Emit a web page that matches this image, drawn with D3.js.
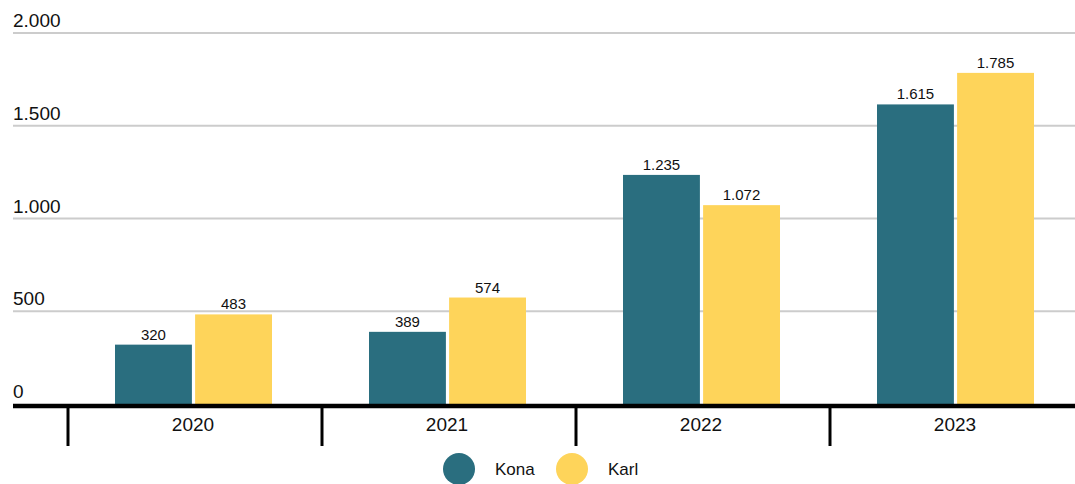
<!DOCTYPE html>
<html><head><meta charset="utf-8">
<script src="https://cdn.jsdelivr.net/npm/d3@7"></script>
<style>body{margin:0;background:#fff}svg{display:block;font-family:"Liberation Sans",Arial,sans-serif}</style>
</head><body><svg id="c" width="1075" height="484"></svg>
<script>
const categories = ["2020","2021","2022","2023"];
const seriesNames = ["Kona","Karl"];
const konaValues = [320, 389, 1235, 1615];
const karlValues = [483, 574, 1072, 1785];
const yTicks = [0, 500, 1000, 1500, 2000];
const colors = ["#2a6e7f", "#fed45a"];

const svg = d3.select("#c");
const y = d3.scaleLinear().domain([0, 2000]).range([404, 33]);
const x = d3.scaleBand().domain(categories).range([68, 1084]);
const xs = d3.scaleBand().domain(seriesNames).range([0, 157]).paddingInner(0.04);
const fmt = v => d3.format(",")(v).replace(/,/g, ".");

// gridlines
svg.append("g").selectAll("line").data(yTicks.filter(d => d > 0)).join("line")
  .attr("x1", 13).attr("x2", 1075).attr("y1", d => y(d)).attr("y2", d => y(d))
  .attr("stroke", "#cccccc").attr("stroke-width", 2);
svg.append("g").selectAll("text").data(yTicks).join("text")
  .attr("x", 13).attr("y", d => y(d) - 6).attr("font-size", 19).attr("fill", "#111")
  .text(d => fmt(d));

const data = categories.map((c, i) => ({c, vals: [konaValues[i], karlValues[i]]}));
const g = svg.append("g").selectAll("g").data(data).join("g")
  .attr("transform", d => `translate(${x(d.c) + 47},0)`);
g.selectAll("rect").data(d => d.vals.map((v, j) => ({v, s: seriesNames[j], j}))).join("rect")
  .attr("x", d => xs(d.s)).attr("width", xs.bandwidth())
  .attr("y", d => y(d.v)).attr("height", d => y(0) - y(d.v))
  .attr("fill", d => colors[d.j]);
g.selectAll("text").data(d => d.vals.map((v, j) => ({v, s: seriesNames[j], j}))).join("text")
  .attr("x", d => xs(d.s) + xs.bandwidth() / 2).attr("y", d => y(d.v) - 5)
  .attr("text-anchor", "middle").attr("font-size", 15).attr("fill", "#111")
  .text(d => fmt(d.v));

// baseline
svg.append("line").attr("x1", 13).attr("x2", 1075).attr("y1", y(0) + 2).attr("y2", y(0) + 2)
  .attr("stroke", "#000").attr("stroke-width", 4.5);
// category separators
svg.append("g").selectAll("line").data(categories).join("line")
  .attr("x1", d => x(d)).attr("x2", d => x(d)).attr("y1", y(0)).attr("y2", 446)
  .attr("stroke", "#000").attr("stroke-width", 3);
svg.append("g").selectAll("text").data(categories).join("text")
  .attr("x", d => x(d) + x.bandwidth() / 2 - 2).attr("y", 431)
  .attr("text-anchor", "middle").attr("font-size", 19).attr("fill", "#111").text(d => d);

// legend
const legendX = [459, 572];
const lg = svg.append("g").selectAll("g").data(seriesNames).join("g")
  .attr("transform", (d, i) => `translate(${legendX[i]},469)`);
lg.append("circle").attr("r", 16).attr("fill", (d, i) => colors[i]);
lg.append("text").attr("x", 36).attr("y", 6).attr("font-size", 17).attr("fill", "#111").text(d => d);
</script></body></html>
